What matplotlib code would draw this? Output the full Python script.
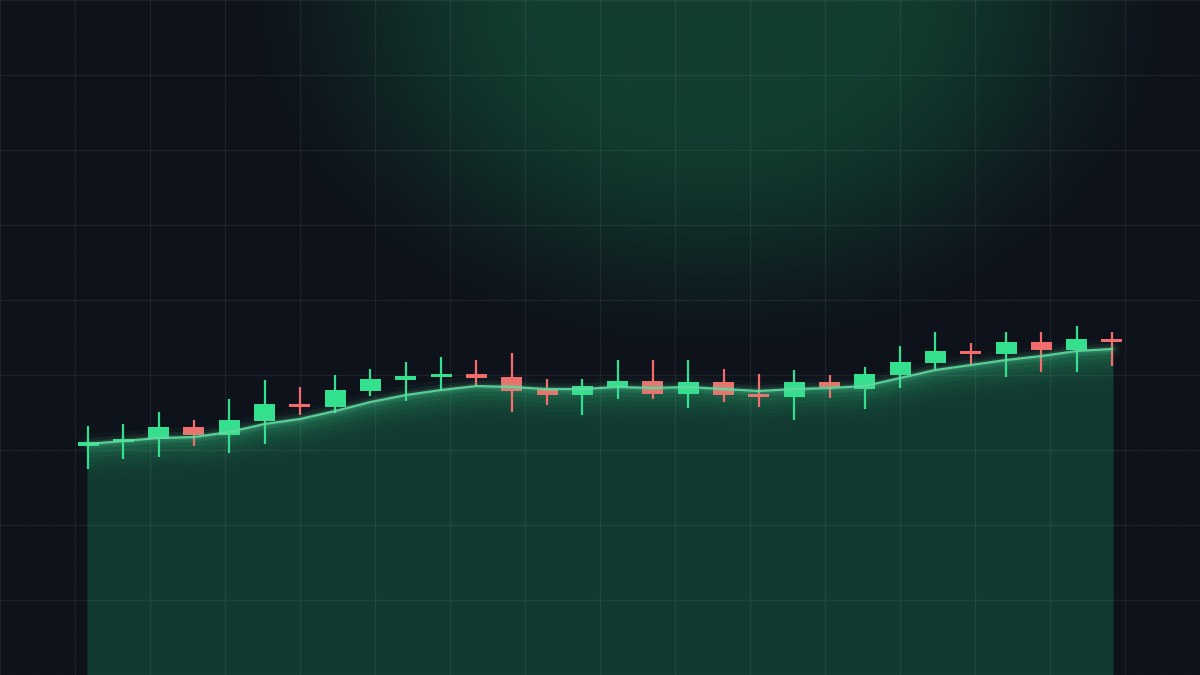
import numpy as np
import matplotlib.pyplot as plt

# candle data (30 sessions), price units
opens = [30.53, 31.07, 31.47, 33.07, 32.00, 33.87, 36.13, 35.73, 37.87, 39.33,
         39.73, 40.13, 39.73, 38.13, 37.33, 38.40, 39.20, 37.47, 39.07, 37.47,
         37.07, 39.07, 38.13, 40.00, 41.60, 43.20, 42.80, 44.40, 43.33, 44.80]
closes = [31.07, 31.47, 33.07, 32.00, 34.00, 36.13, 35.73, 38.00, 39.47, 39.87,
          40.13, 39.60, 37.87, 37.33, 38.53, 39.20, 37.47, 39.07, 37.33, 37.07,
          39.07, 38.40, 40.13, 41.73, 43.20, 42.80, 44.40, 43.33, 44.80, 44.40]
highs = [33.20, 33.47, 35.07, 34.00, 36.80, 39.33, 38.40, 40.00, 40.80, 41.73,
         42.40, 42.00, 42.93, 39.47, 39.47, 42.00, 42.00, 42.00, 40.80, 40.13,
         40.67, 40.00, 41.07, 43.87, 45.73, 44.27, 45.73, 45.73, 46.53, 45.73]
lows = [27.47, 28.80, 29.07, 30.53, 29.60, 30.80, 34.67, 34.93, 37.20, 36.53,
        37.87, 38.40, 35.07, 36.00, 34.67, 36.80, 36.80, 35.60, 36.40, 35.73,
        34.00, 36.93, 35.47, 38.27, 40.67, 41.20, 39.73, 40.40, 40.40, 41.20]
# smoothed trend line
trend = [30.80, 31.20, 31.60, 31.73, 32.40, 33.47, 34.13, 35.20, 36.40, 37.33,
         38.00, 38.53, 38.40, 38.13, 38.13, 38.40, 38.27, 38.40, 38.13, 37.87,
         38.13, 38.27, 38.53, 39.60, 40.67, 41.33, 42.00, 42.53, 43.20, 43.47]

BG = '#0e121b'
GREEN = '#33e08d'
RED = '#f46b6b'
LINE = '#5fdc9f'
FILL = '#133a31'

x = np.arange(len(opens))
step = 35.31  # px per candle
x0 = -88 / step
x1 = (1200 - 88) / step

fig = plt.figure(figsize=(12, 6.75), dpi=100)
fig.patch.set_facecolor(BG)
ax = fig.add_axes([0, 0, 1, 1])
ax.set_facecolor(BG)

# soft green glow at the top
gx, gy = np.meshgrid(np.linspace(0, 1200, 400), np.linspace(0, 675, 225))
r = np.sqrt(((gx - 710) / 500) ** 2 + ((gy + 10) / 390) ** 2)
t = np.clip((r - 0.3) / 0.7, 0, 1)
w = 1 - t * t * (3 - 2 * t)
bg = np.array([14, 18, 27]) / 255
gc = np.array([18, 62, 48]) / 255
img = bg + (gc - bg) * w[..., None]
ax.imshow(img, extent=[x0, x1, 0, 90], origin='upper', aspect='auto',
          zorder=0, interpolation='bilinear')
ax.set_xlim(x0, x1)
ax.set_ylim(0, 90)
ax.axis('off')

# area under trend
xf = np.concatenate([[-0.03], x, [x[-1] + 0.03]])
tf = np.concatenate([[trend[0]], trend, [trend[-1]]])
ax.fill_between(xf, tf, 0, color=FILL, zorder=1, linewidth=0)
# glow just below the line
for k, a in zip(range(1, 9), np.linspace(0.10, 0.01, 8)):
    ax.fill_between(x, trend, np.array(trend) - 0.6 * k, color='#2fa874',
                    alpha=a, zorder=1.2, linewidth=0)

# grid
for k in range(17):
    ax.axvline(x0 + k * (x1 - x0) / 16, color='white', alpha=0.06, lw=1, zorder=2)
for k in range(10):
    ax.axhline(k * 10, color='white', alpha=0.06, lw=1, zorder=2)

# candles
bw = 21 / step
for i in x:
    o, c, h, l = opens[i], closes[i], highs[i], lows[i]
    col = GREEN if c >= o else RED
    ax.vlines(i, l, h, color=col, lw=1.6, zorder=3)
    lo = min(o, c)
    hgt = max(abs(c - o), 0.4)
    ax.bar(i, hgt, bottom=lo, width=bw, color=col, zorder=3, linewidth=0)

# trend line with glow
for lw, a in [(14, 0.04), (8, 0.08), (4, 0.15)]:
    ax.plot(x, trend, color=LINE, lw=lw, alpha=a, zorder=4,
            solid_capstyle='round')
ax.plot(x, trend, color=LINE, lw=1.6, alpha=0.9, zorder=4)

fig.savefig('out.png', dpi=100, facecolor=BG)
